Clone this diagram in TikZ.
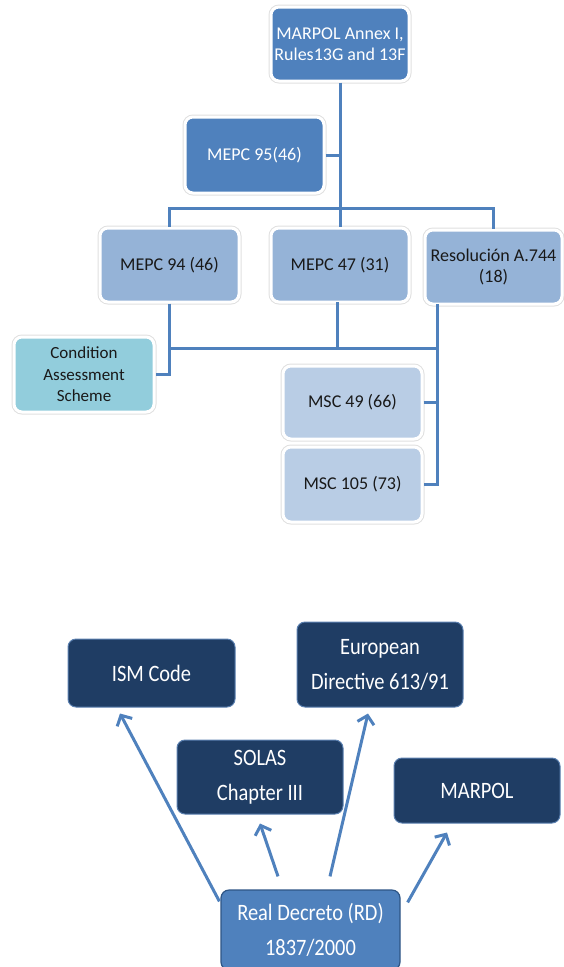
\documentclass[tikz,border=0pt]{standalone}
\usepackage{fontspec}
\setmainfont{Carlito}
\newfontfamily\condfont{Carlito}[FakeStretch=0.87]
\usetikzlibrary{arrows.meta,calc}
\definecolor{midblue}{HTML}{4F81BD}
\definecolor{lightblue}{HTML}{95B3D7}
\definecolor{paleblue}{HTML}{B9CDE5}
\definecolor{aqua}{HTML}{92CDDC}
\definecolor{navy}{HTML}{1F3D64}
\definecolor{navyedge}{HTML}{5A7FAF}
\definecolor{rdedge}{HTML}{2E5585}
\tikzset{
  halo/.style={rounded corners=8pt, preaction={draw=black!12, line width=5pt}, draw=white, line width=3pt, inner sep=0pt, align=center, font=\fontsize{18}{21.5}\selectfont},
  topbox/.style={halo, fill=midblue, text=white},
  midbox/.style={halo, fill=lightblue, text=black!90},
  mscbox/.style={halo, fill=paleblue, text=black!90},
  casbox/.style={halo, fill=aqua, text=black!90, font=\fontsize{17}{21.5}\selectfont},
  darkbox/.style={rounded corners=8pt, fill=navy, draw=navyedge, line width=1pt, text=white, inner sep=0pt, align=center, font=\condfont\fontsize{23.5}{35}\selectfont},
  rdbox/.style={rounded corners=8pt, fill=midblue, draw=rdedge, line width=1.2pt, text=white, inner sep=0pt, align=center, font=\condfont\fontsize{23.5}{35}\selectfont},
  link/.style={draw=midblue, line width=3pt},
  arr/.style={draw=midblue, line width=3pt, -{Straight Barb[length=8pt,width=17pt,line width=3pt]}},
}
\begin{document}
\begin{tikzpicture}[x=1pt,y=-1pt]
\useasboundingbox (0,0) rectangle (563,967);
\coordinate (rdrop) at (437,304);
\coordinate (mdrop) at (337,302);
% nodes
\node[topbox, minimum width=138pt, minimum height=74pt] (marpolA) at (340,44) {MARPOL Annex I,\\Rules13G and 13F};
\node[topbox, minimum width=139pt, minimum height=76pt] (mepc95) at (254.5,155) {MEPC 95(46)};
\node[midbox, minimum width=139pt, minimum height=74pt] (mepc94) at (169.5,265) {MEPC 94 (46)};
\node[midbox, minimum width=138pt, minimum height=74pt] (mepc47) at (340,265) {MEPC 47 (31)};
\node[midbox, minimum width=137pt, minimum height=74pt] (res744) at (493.5,267) {Resolución A.744\\(18)};
\node[casbox, minimum width=140pt, minimum height=75pt] (cas) at (84,374.5) {Condition\\Assessment\\Scheme};
\node[mscbox, minimum width=139pt, minimum height=73pt] (msc49) at (352.5,402.5) {MSC 49 (66)};
\node[mscbox, minimum width=139pt, minimum height=75pt] (msc105) at (352.5,484.5) {MSC 105 (73)};
% connectors
\draw[link] (marpolA.south) -- (mepc47.north);
\draw[link] (mepc95.east) -- (mepc95.east -| marpolA.south);
\draw[link] (mepc94.north) -- ++(0,-18) -| (res744.north);
\draw[link] (mepc94.south) |- (cas.east);
\draw[link] (mdrop) -- (mdrop |- 0,348);
\draw[link] (mepc94.south |- 0,348) -- (rdrop |- 0,348);
\draw[link] (rdrop) |- (msc105.east);
\draw[link] (msc49.east) -- (msc49.east -| rdrop);
% bottom diagram
\node[darkbox, minimum width=167pt, minimum height=68pt] (ism) at (151.5,673) {ISM Code};
\node[darkbox, minimum width=166pt, minimum height=85pt] (euro) at (380,664.5) {European\\Directive 613/91};
\node[darkbox, minimum width=166pt, minimum height=74pt] (solas) at (260,777) {SOLAS\\Chapter III};
\node[darkbox, minimum width=166pt, minimum height=65pt] (marpol) at (477,790.5) {MARPOL};
\node[rdbox, minimum width=179pt, minimum height=80pt] (rd) at (310.5,930) {Real Decreto (RD)\\1837/2000};
\draw[arr] ($(rd.north west)+(-1,12)$) -- ($(ism.south)+(-31.5,6)$);
\draw[arr] ($(rd.north)+(-32.5,-13)$) -- ($(solas.south)+(0,9)$);
\draw[arr] ($(rd.north)+(19.5,-13)$) -- ($(euro.south)+(-12,6)$);
\draw[arr] ($(rd.north east)+(7,13)$) -- ($(marpol.south)+(-30,9)$);
\end{tikzpicture}
\end{document}
